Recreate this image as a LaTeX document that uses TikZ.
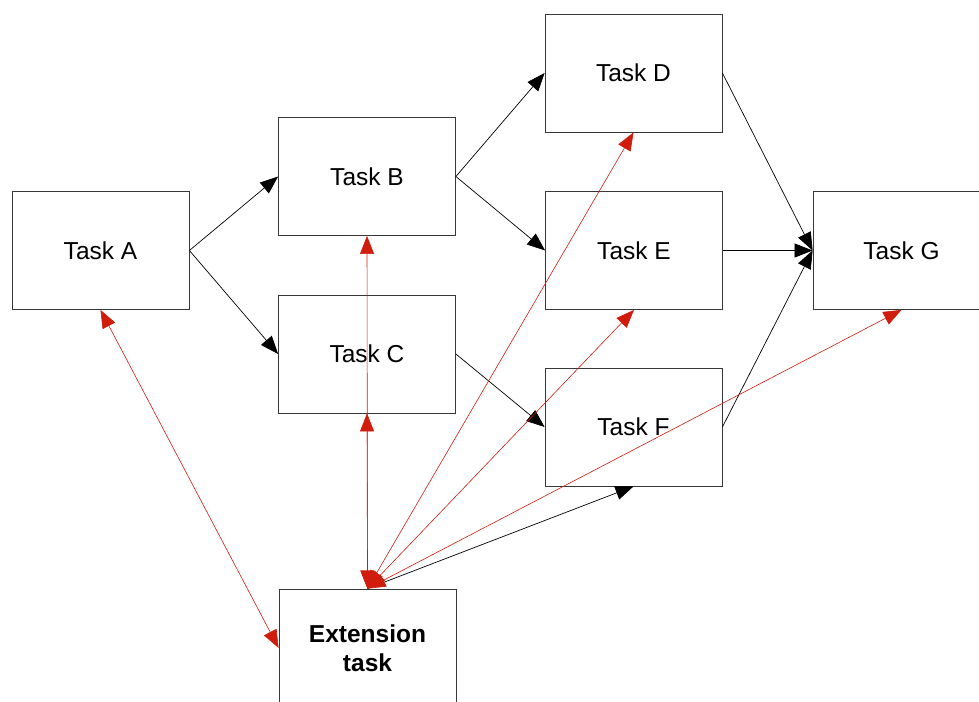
\documentclass[tikz,border=0pt]{standalone}
\usepackage{fontspec}
\setmainfont{Liberation Sans}
\usetikzlibrary{arrows.meta}
\definecolor{linkred}{RGB}{208,28,12}
\definecolor{boxgray}{RGB}{55,55,55}
\begin{document}
\begin{tikzpicture}[x=1pt,y=-1pt,
  task/.style={draw=boxgray, line width=0.8pt, fill=white,
    minimum width=177pt, minimum height=118pt, inner sep=0pt,
    align=center, font=\fontsize{24.5}{29}\selectfont},
  flow/.style={draw=black, line width=0.7pt, -{Triangle[length=18pt,width=14pt]}},
  link/.style={draw=linkred, line width=0.6pt,
    {Triangle[length=18pt,width=14pt]}-{Triangle[length=18pt,width=14pt]}},
]
\useasboundingbox (0,0) rectangle (979,701);
\clip (0,0) rectangle (979,701);

% task boxes
\node[task] (A) at (100.5,250.5) {Task A};
\node[task] (B) at (367,176.5) {Task B};
\node[task] (C) at (367,354) {Task C};
\node[task] (D) at (633.5,73) {Task D};
\node[task] (E) at (634,250.5) {Task E};
\node[task] (F) at (633.5,427) {Task F};
\node[task] (G) at (901.5,250.5) {Task G};
\node[task, font=\fontsize{24.5}{29}\selectfont\bfseries] (X) at (367.5,648) {Extension\\task};

% precedence flow
\draw[flow] (A.east) -- (B.west);
\draw[flow] (A.east) -- (C.west);
\draw[flow] (B.east) -- (D.west);
\draw[flow] (B.east) -- (E.west);
\draw[flow] (C.east) -- (F.west);
\draw[flow] (D.east) -- (G.west);
\draw[flow] (E.east) -- (G.west);
\draw[flow] (F.east) -- (G.west);
\draw[flow] (X.north) -- (F.south);

% links of the extension task
\draw[link] (X.west) -- (A.south);
\draw[link] (X.north) -- (C.south);
\draw[link] (X.north) -- (B.south);
\draw[link] (X.north) -- (D.south);
\draw[link] (X.north) -- (E.south);
\draw[link] (X.north) -- (G.south);
\end{tikzpicture}
\end{document}
